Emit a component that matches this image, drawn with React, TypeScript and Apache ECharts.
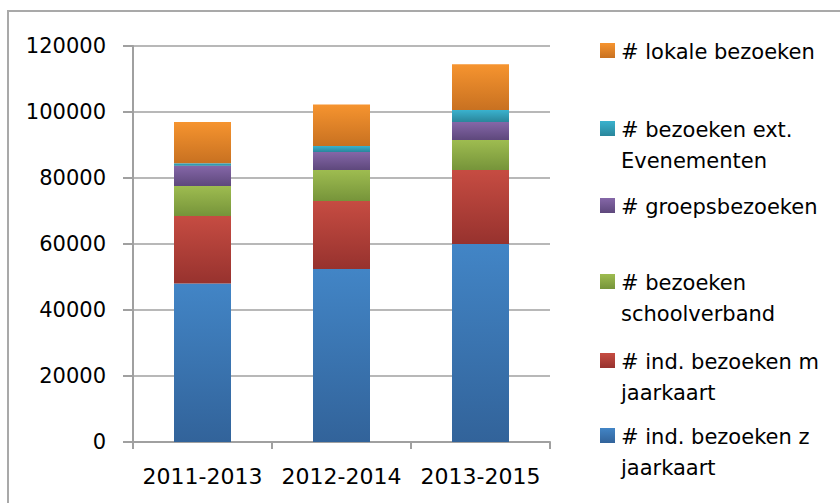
import React, { useEffect, useRef } from "react";
import * as echarts from "echarts";

const categories = ["2011-2013", "2012-2014", "2013-2015"];
const seriesNames = [
  "# ind. bezoeken z jaarkaart",
  "# ind. bezoeken m jaarkaart",
  "# bezoeken schoolverband",
  "# groepsbezoeken",
  "# bezoeken ext. Evenementen",
  "# lokale bezoeken",
];
const indZonder = [48000, 52400, 60000];
const indMet = [20500, 20600, 22400];
const school = [9100, 9400, 9100];
const groeps = [6100, 5500, 5500];
const extern = [800, 1800, 3600];
const lokaal = [12500, 12600, 13900];
const yTicks = [0, 20000, 40000, 60000, 80000, 100000, 120000];

const seriesValues = [indZonder, indMet, school, groeps, extern, lokaal];
const colorsTop = ["#4285c6", "#c64c42", "#9ebc50", "#8567a8", "#3ab2ce", "#f6942f"];
const colorsBottom = ["#32639a", "#97322e", "#76943a", "#5e487c", "#2a869b", "#c87121"];
// legend layout (top-to-bottom), first-line centre y
const legendY = [52, 130, 207, 283, 362, 437];

const FONT = "DejaVu Sans";

export default function App() {
  const ref = useRef<HTMLDivElement>(null);
  useEffect(() => {
    if (!ref.current) return;
    const chart = echarts.init(ref.current, undefined, { renderer: "svg" });
    const grad = (i: number) =>
      new echarts.graphic.LinearGradient(0, 0, 0, 1, [
        { offset: 0, color: colorsTop[i] },
        { offset: 1, color: colorsBottom[i] },
      ]);
    const legendOrder = [5, 4, 3, 2, 1, 0];
    const graphics: any[] = [
      {
        type: "rect",
        shape: { x: 8, y: 11, width: 900, height: 600 },
        style: { fill: "none", stroke: "#a9a9a9", lineWidth: 2 },
        silent: true,
      },
    ];
    legendOrder.forEach((si, k) => {
      const cy = legendY[k];
      graphics.push({
        type: "rect",
        shape: { x: 600, y: cy - 9, width: 15, height: 15 },
        style: { fill: grad(si) },
      });
      graphics.push({
        type: "text",
        x: 621,
        y: cy - 16,
        style: {
          text: seriesNames[si],
          font: `21px "${FONT}"`,
          fill: "#000",
          width: 212,
          overflow: "break",
          lineHeight: 31,
          verticalAlign: "top",
        },
      });
    });
    chart.setOption({
      animation: false,
      backgroundColor: "#fff",
      grid: { left: 133, right: 290, top: 46, bottom: 61 },
      xAxis: {
        type: "category",
        data: categories,
        boundaryGap: true,
        axisLine: { lineStyle: { color: "#a0a0a0", width: 2 } },
        axisTick: { show: true, length: 7, lineStyle: { color: "#a0a0a0", width: 2 } },
        axisLabel: {
          color: "#000",
          fontFamily: FONT,
          fontSize: 22,
          margin: 23,
          interval: 0,
        },
      },
      yAxis: {
        type: "value",
        min: yTicks[0],
        max: yTicks[yTicks.length - 1],
        interval: yTicks[1] - yTicks[0],
        axisLine: { show: true, lineStyle: { color: "#a0a0a0", width: 2 } },
        axisTick: { show: true, length: 10, lineStyle: { color: "#a0a0a0", width: 2 } },
        splitLine: { lineStyle: { color: "#a0a0a0", width: 1.6 } },
        axisLabel: {
          color: "#000",
          fontFamily: FONT,
          fontSize: 21,
          margin: 27,
          formatter: (v: number) => String(v),
        },
      },
      series: seriesValues.map((vals, i) => ({
        name: seriesNames[i],
        type: "bar",
        stack: "total",
        barWidth: 57,
        data: vals,
        itemStyle: { color: grad(i) },
      })),
      graphic: graphics,
    });
    return () => chart.dispose();
  }, []);
  return (
    <div
      ref={ref}
      style={{ position: "fixed", left: 0, top: 0, width: 840, height: 503 }}
    />
  );
}
